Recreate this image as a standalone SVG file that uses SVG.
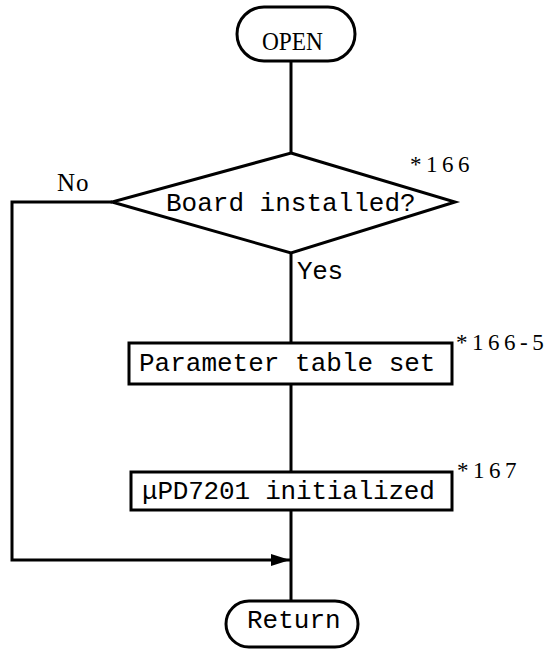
<svg xmlns="http://www.w3.org/2000/svg" width="547" height="649" viewBox="0 0 547 649">
<defs>
<style>
.shape{fill:#fff;stroke:#000;stroke-width:3}
.line{fill:none;stroke:#000;stroke-width:3}
.mono{font-family:"Liberation Mono","DejaVu Sans Mono",monospace;font-size:26px;fill:#000}
.serif{font-family:"Liberation Serif","DejaVu Serif",serif;font-size:25px;fill:#000}
.ref{font-family:"Liberation Serif","DejaVu Serif",serif;font-size:23px;fill:#000;letter-spacing:4.5px}
</style>
<marker id="arrow" markerWidth="20" markerHeight="14" refX="19" refY="7" orient="auto" markerUnits="userSpaceOnUse">
<path d="M0,1 L19,7 L0,13 Z" fill="#000"/>
</marker>
</defs>
<rect width="547" height="649" fill="#fff"/>
<g id="connectors">
<line class="line" x1="291" y1="61" x2="291" y2="153"/>
<line class="line" x1="291" y1="253" x2="291" y2="343"/>
<line class="line" x1="291" y1="384" x2="291" y2="472"/>
<line class="line" x1="291" y1="510" x2="291" y2="601"/>
<polyline class="line" points="112,202 12,202 12,560 290,560" marker-end="url(#arrow)"/>
<text class="serif" x="57" y="191" letter-spacing="1">No</text>
<text class="mono" x="297" y="279" letter-spacing="-0.3">Yes</text>
</g>
<g id="open">
<rect class="shape" x="237" y="7" width="118" height="54" rx="27" ry="27"/>
<text class="serif" x="262" y="50" font-size="30" textLength="61" lengthAdjust="spacingAndGlyphs">OPEN</text>
</g>
<g id="board">
<polygon class="shape" points="291,153 455,202 291,253 112,202"/>
<text class="mono" x="166" y="211">Board installed?</text>
<text class="ref" x="410" y="172">*166</text>
</g>
<g id="param">
<rect class="shape" x="129" y="343" width="323" height="41"/>
<text class="mono" x="139" y="371">Parameter table set</text>
<text class="ref" x="456" y="350" letter-spacing="3.4">*166-5</text>
</g>
<g id="init">
<rect class="shape" x="131" y="472" width="321" height="38"/>
<text class="mono" x="142" y="499" letter-spacing="-0.2">μPD7201 initialized</text>
<text class="ref" x="457" y="478">*167</text>
</g>
<g id="return">
<rect class="shape" x="226" y="601" width="132" height="46" rx="23" ry="23"/>
<text class="mono" x="247" y="628" font-size="25">Return</text>
</g>
</svg>
